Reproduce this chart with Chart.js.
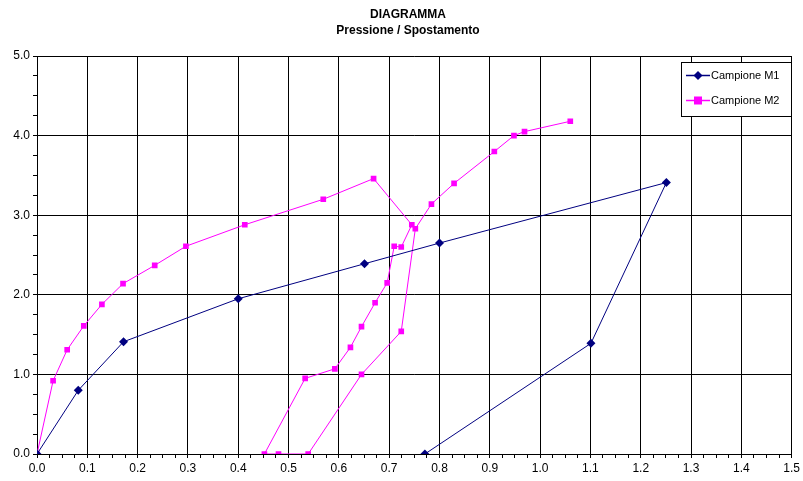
<!DOCTYPE html>
<html>
<head>
<meta charset="utf-8">
<script src="https://cdn.jsdelivr.net/npm/chart.js@4/dist/chart.umd.min.js"></script>
<style>
  html, body { margin: 0; padding: 0; background: #fff; }
  #wrap { width: 803px; height: 481px; }
</style>
</head>
<body>
<div id="wrap"><canvas id="c" width="803" height="481"></canvas></div>
<script>
const titleLines = ['DIAGRAMMA', 'Pressione / Spostamento'];
const seriesNames = ['Campione M1', 'Campione M2'];

const m1X = [0, 0.082, 0.172, 0.40, 0.651, 0.800, 1.251, 1.101, 0.771];
const m1Y = [0, 0.80, 1.41, 1.95, 2.39, 2.65, 3.41, 1.39, 0];

const m2X = [0, 0.032, 0.060, 0.093, 0.129, 0.171, 0.234, 0.296, 0.413, 0.569, 0.669,
             0.745, 0.724, 0.710, 0.696, 0.672, 0.645, 0.623, 0.592, 0.533,
             0.452, 0.480, 0.539, 0.645, 0.724, 0.752,
             0.784, 0.829, 0.909, 0.948, 0.969, 1.060];
const m2Y = [0, 0.92, 1.31, 1.61, 1.88, 2.14, 2.37, 2.61, 2.88, 3.20, 3.46,
             2.88, 2.60, 2.61, 2.15, 1.90, 1.60, 1.34, 1.07, 0.95,
             0, 0, 0, 1.00, 1.54, 2.83,
             3.14, 3.40, 3.80, 4.00, 4.05, 4.18];

const xMin = 0, xMax = 1.5, xMajor = 0.1, xMinor = 0.025;
const yMin = 0, yMax = 5, yMajor = 1, yMinor = 0.25;

const FONT = '"Liberation Sans", Arial, sans-serif';
const toPts = (xs, ys) => xs.map((x, i) => ({ x: x, y: ys[i] }));
const isMajor = (v, step) => Math.abs(v / step - Math.round(v / step)) < 1e-6;

const titleDraw = {
  id: 'titleDraw',
  afterDraw(chart) {
    const ctx = chart.ctx;
    ctx.save();
    ctx.fillStyle = '#000';
    ctx.font = 'bold 12px ' + FONT;
    ctx.textAlign = 'center';
    ctx.textBaseline = 'middle';
    ctx.fillText(titleLines[0], 408, 14.5);
    ctx.fillText(titleLines[1], 408, 31);
    ctx.restore();
  }
};

const legendBox = {
  id: 'legendBox',
  afterDraw(chart) {
    const ctx = chart.ctx;
    ctx.save();
    const L = 681, T = 62, R = 792, B = 117;
    ctx.fillStyle = '#fff';
    ctx.fillRect(L, T, R - L, B - T);
    ctx.strokeStyle = '#000';
    ctx.lineWidth = 1;
    ctx.strokeRect(L + 0.5, T + 0.5, R - L - 1, B - T - 1);
    const rows = [75.5, 100.5];
    chart.data.datasets.forEach((ds, i) => {
      const y = rows[i];
      ctx.strokeStyle = ds.borderColor;
      ctx.lineWidth = 1.5;
      ctx.beginPath(); ctx.moveTo(686, y); ctx.lineTo(710, y); ctx.stroke();
      ctx.fillStyle = ds.pointBackgroundColor;
      if (ds.pointStyle === 'rectRot') {
        ctx.beginPath();
        ctx.moveTo(698, y - 4.5); ctx.lineTo(702.5, y); ctx.lineTo(698, y + 4.5); ctx.lineTo(693.5, y);
        ctx.closePath(); ctx.fill();
      } else {
        ctx.fillRect(694, y - 4, 8, 8);
      }
      ctx.fillStyle = '#000';
      ctx.font = '11px ' + FONT;
      ctx.textBaseline = 'middle';
      ctx.textAlign = 'left';
      ctx.fillText(ds.label, 711, y);
    });
    ctx.restore();
  }
};

new Chart(document.getElementById('c'), {
  type: 'scatter',
  data: {
    datasets: [
      {
        label: seriesNames[0],
        data: toPts(m1X, m1Y),
        showLine: true,
        borderColor: '#000080',
        backgroundColor: '#000080',
        pointBackgroundColor: '#000080',
        pointBorderColor: '#000080',
        borderWidth: 1,
        pointStyle: 'rectRot',
        pointRadius: 4.5,
        pointBorderWidth: 0,
        tension: 0
      },
      {
        label: seriesNames[1],
        data: toPts(m2X, m2Y),
        showLine: true,
        borderColor: '#FF00FF',
        backgroundColor: '#FF00FF',
        pointBackgroundColor: '#FF00FF',
        pointBorderColor: '#FF00FF',
        borderWidth: 1,
        pointStyle: 'rect',
        pointRadius: 4,
        pointBorderWidth: 0,
        tension: 0
      }
    ]
  },
  options: {
    responsive: false,
    animation: false,
    devicePixelRatio: 1,
    layout: { padding: { left: 0, right: 10, top: 56, bottom: 0 } },
    plugins: {
      legend: { display: false },
      tooltip: { enabled: false },
      title: { display: false }
    },
    scales: {
      x: {
        type: 'linear',
        min: xMin, max: xMax,
        afterFit(s) { s.height = 27; },
        afterBuildTicks(s) {
          const t = [];
          for (let v = xMin; v <= xMax + 1e-9; v += xMinor) t.push({ value: Math.round(v * 1000) / 1000 });
          s.ticks = t;
        },
        ticks: {
          autoSkip: false,
          maxRotation: 0,
          color: '#000',
          padding: 3,
          font: { family: FONT, size: 12 },
          callback: (v) => isMajor(v, xMajor) ? Number(v).toFixed(1) : ''
        },
        grid: {
          color: (c) => (c.tick && isMajor(c.tick.value, xMajor)) ? '#000' : 'rgba(0,0,0,0)',
          tickColor: '#000',
          tickLength: 4,
          lineWidth: 1
        },
        border: { display: true, color: '#000', width: 1 }
      },
      y: {
        type: 'linear',
        min: yMin, max: yMax,
        afterFit(s) { s.width = 37; },
        afterBuildTicks(s) {
          const t = [];
          for (let v = yMin; v <= yMax + 1e-9; v += yMinor) t.push({ value: Math.round(v * 1000) / 1000 });
          s.ticks = t;
        },
        ticks: {
          autoSkip: false,
          color: '#000',
          padding: 3,
          font: { family: FONT, size: 12 },
          callback: (v) => isMajor(v, yMajor) ? Number(v).toFixed(1) : ''
        },
        grid: {
          color: (c) => (c.tick && isMajor(c.tick.value, yMajor)) ? '#000' : 'rgba(0,0,0,0)',
          tickColor: '#000',
          tickLength: 4,
          lineWidth: 1
        },
        border: { display: true, color: '#000', width: 1 }
      }
    }
  },
  plugins: [titleDraw, legendBox]
});
</script>
</body>
</html>
